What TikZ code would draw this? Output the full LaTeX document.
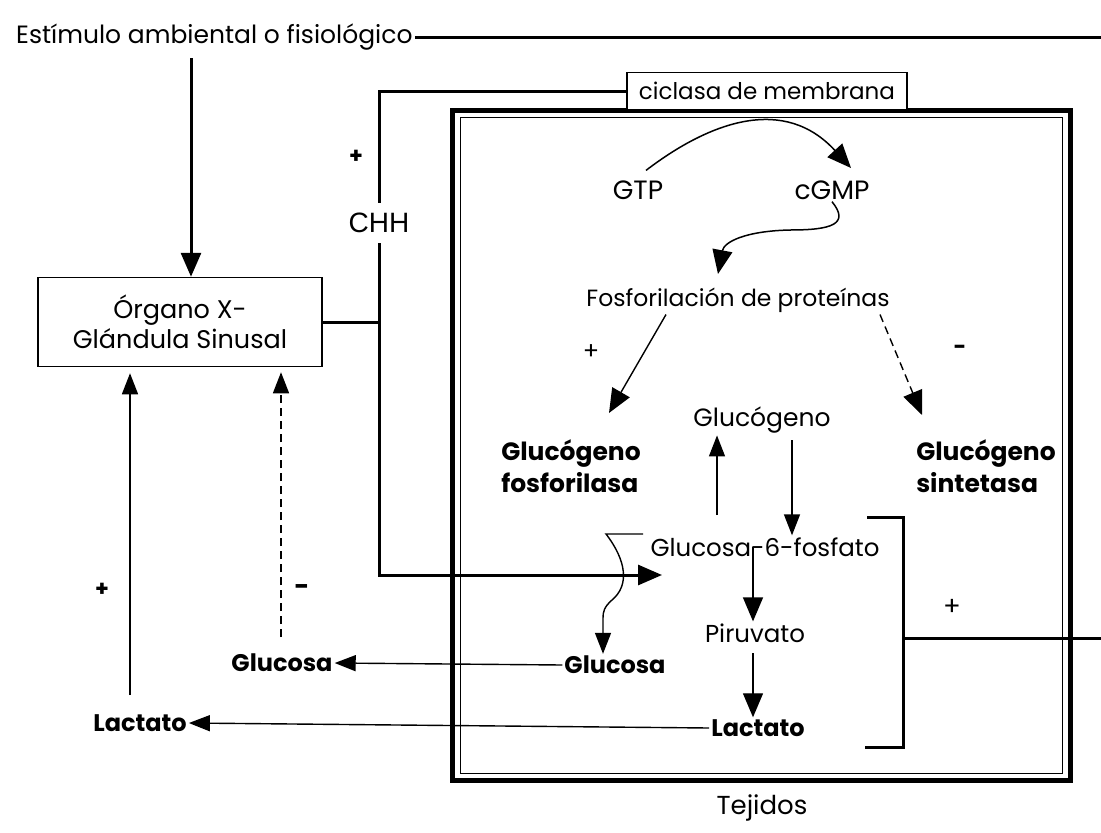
\documentclass[tikz,border=0pt]{standalone}
\usepackage{fontspec}
\setmainfont{Poppins}
\newfontfamily\arialf{Liberation Sans}
\usetikzlibrary{arrows.meta}
\begin{document}
\begin{tikzpicture}[x=1pt,y=-1pt,
  every node/.style={font=\fontsize{24}{30}\selectfont, inner sep=2pt},
  fs/.style={font=\fontsize{#1}{30}\selectfont},
  bld/.style={font=\fontsize{25}{32}\selectfont\bfseries, align=left},
  sgn/.style={font=\fontsize{22}{24}\selectfont\bfseries},
  thickln/.style={line width=3pt},
  thinln/.style={line width=1.4pt},
  dsh/.style={dash pattern=on 8pt off 5pt},
  bigtip/.style={-{Triangle[length=24pt,width=20pt]}},
  midtip/.style={-{Triangle[length=21pt,width=16pt]}},
  boxst/.style={draw, line width=1.5pt, fill=white},
]
\path[use as bounding box, fill=white] (0,0) rectangle (1101,833);

% frame (Tejidos)
\draw[line width=5pt] (452,110) rectangle (1070,780);
\draw[line width=0.8pt] (460,117) rectangle (1062,773);
\node[fs=26] (tej) at (762,808) {Tejidos};

% top stimulus
\node[anchor=west, fs=25] (est) at (14,37) {Estímulo ambiental o fisiológico};
\coordinate (estR) at (1101,39);
\draw[thickln] (est.east) -- (est.east -| estR);

% organ box
\node[boxst, minimum width=284pt, minimum height=89pt, align=center, fs=25.5] (org) at (180,322) {Órgano X-\\Glándula Sinusal};
\coordinate (sA) at (191,58);
\draw[thickln, bigtip] (sA) -- (sA |- org.north);

% ciclasa
\node[boxst, minimum width=280pt, minimum height=37pt, fs=23] (cic) at (767,91) {ciclasa de membrana};

% CHH
\node[font=\arialf\fontsize{28}{30}\selectfont, minimum height=40pt, inner sep=0pt] (chh) at (379,223) {CHH};
\node[sgn] (p1) at (356,157) {+};
\coordinate (g6pin) at (662,575);
\draw[thickln] (cic.west) -| (chh.north);
\draw[thickln, bigtip] (chh.south) |- (g6pin);
\draw[thickln] (org.east) -- (org.east -| chh.south);

% GTP / cGMP
\node[fs=26.5] (gtp) at (638,190) {GTP};
\node[fs=26.5] (cgmp) at (832,190) {cGMP};
\coordinate (t1) at (851,168);
\draw[line width=1.5pt, bigtip] (gtp.north) ++(8,-8) .. controls (712,120) and (785,96) .. (t1);
\coordinate (t2) at (718,274);
\draw[line width=1.5pt, bigtip] (cgmp.south) .. controls (850,224) and (832,230) .. (790,230)
   .. controls (745,231) and (724,242) .. (t2);

% Fosforilación
\node[fs=23.5] (fos) at (738,300) {Fosforilación de proteínas};
\coordinate (t3) at (609,413);
\coordinate (t4) at (922,415);
\draw[thinln, bigtip] ([xshift=-72pt]fos.south) -- (t3);
\draw[thinln, dsh, bigtip] ([xshift=142pt]fos.south) -- (t4);
\node[fs=24] (p2) at (591,352) {+};
\node[sgn] (m1) at (960,350) {-};

% enzymes
\node[bld] (gfos) at (571,466) {Glucógeno\\fosforilasa};
\node[bld] (gsin) at (986,466) {Glucógeno\\sintetasa};

% glycogen
\node[fs=25] (glg) at (762,420) {Glucógeno};
\node[fs=24.5] (g6p) at (765,547) {Glucosa-6-fosfato};
\coordinate (ua) at (717,515);
\coordinate (da) at (792,440);
\draw[thinln, midtip] (ua) -- (ua |- glg.south);
\draw[thinln, midtip] (da) -- (da |- g6p.north);

\node[fs=24.5] (pir) at (755,633) {Piruvato};
\node[bld, font=\fontsize{24}{30}\selectfont\bfseries] (lacin) at (758,728) {Lactato};
\node[bld, font=\fontsize{24}{30}\selectfont\bfseries] (gluin) at (615,665) {Glucosa};
\coordinate (pa) at (753,547);
\draw[thinln, bigtip] (pa) -- (pa |- pir.north);
\coordinate (pb) at (753,653);
\draw[thinln, bigtip] (pb) -- (pb |- lacin.north);

% wavy branch to glucose
\coordinate (w0) at (643,534);
\draw[thinln, midtip] (w0) -- (606,534) .. controls (626,560) and (630,585) .. (612,600)
   .. controls (604,607) and (603,612) .. (603,618) -- (gluin.north -| 603,0);

% bracket
\coordinate (b0) at (867,517);
\coordinate (b1) at (865,747);
\coordinate (bR) at (1101,638);
\draw[thickln] (b0) -- (903,517) -- (903,747) -- (b1);
\draw[thickln] (903,638) -- (bR);
\node[fs=26] (p3) at (952,607) {+};

% outputs
\node[bld, font=\fontsize{24}{30}\selectfont\bfseries] (gluout) at (282,663) {Glucosa};
\node[bld, font=\fontsize{24}{30}\selectfont\bfseries] (lacout) at (140,723) {Lactato};
\draw[thinln, midtip] (gluin.west) -- (gluout.east);
\draw[thinln, midtip] (lacin.west) -- (lacout.east);

% feedback
\coordinate (fa) at (130,695);
\coordinate (fb) at (281,637);
\draw[thinln, midtip, shorten >=6pt] (fa) -- (fa |- org.south);
\draw[thinln, dsh, midtip, shorten >=5pt] (fb) -- (fb |- org.south);
\node[sgn] (p4) at (102,590) {+};
\node[sgn, font=\fontsize{26}{26}\selectfont\bfseries] (m2) at (302,590) {-};
\end{tikzpicture}
\end{document}
